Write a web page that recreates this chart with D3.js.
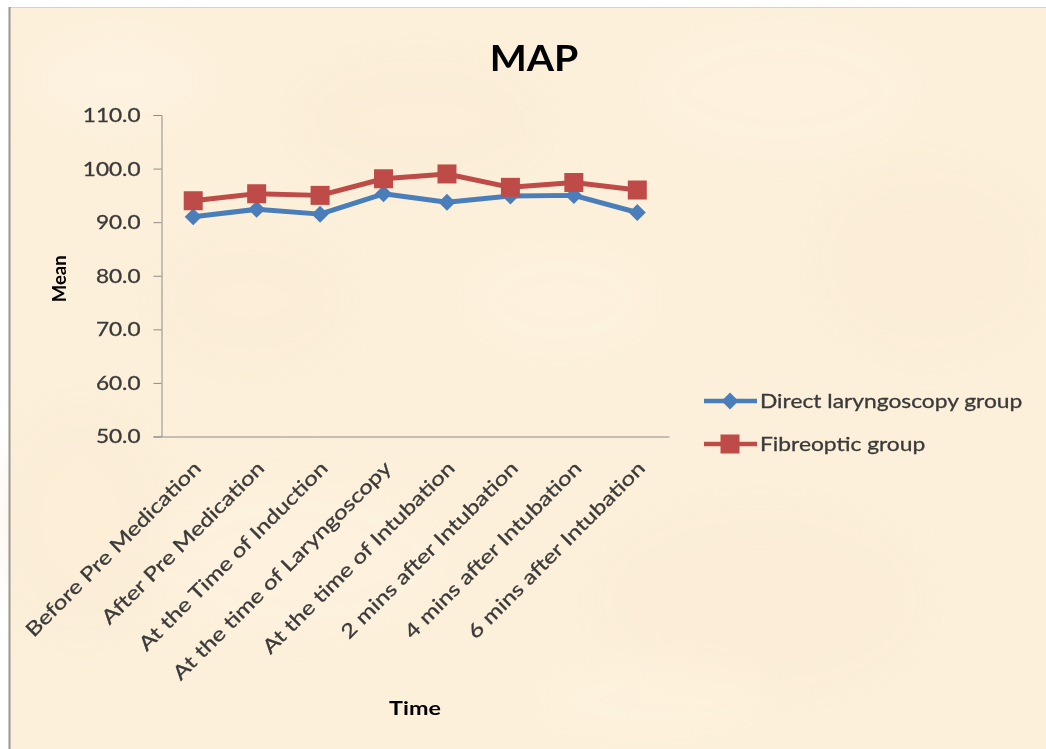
<!DOCTYPE html>
<html>
<head>
<meta charset="utf-8">
<script src="https://cdn.jsdelivr.net/npm/d3@7"></script>
<style>
  html, body { margin: 0; padding: 0; background: #ffffff; }
  svg { display: block; }
</style>
</head>
<body>
<svg id="chart" width="1046" height="749"></svg>
<script>
// Time points along the x axis
const categories = [
  "Before Pre Medication",
  "After Pre Medication",
  "At the Time of Induction",
  "At the time of Laryngoscopy",
  "At the time of Intubation",
  "2 mins after Intubation",
  "4 mins after Intubation",
  "6 mins after Intubation"
];

// Mean arterial pressure per group
const directValues = [91.0, 92.4, 91.5, 95.3, 93.7, 94.9, 95.0, 91.8];
const fibreopticValues = [94.0, 95.3, 95.0, 98.1, 99.0, 96.5, 97.4, 96.0];

const seriesNames = ["Direct laryngoscopy group", "Fibreoptic group"];
const yTicks = [50, 60, 70, 80, 90, 100, 110];

const series = [
  { name: seriesNames[0], values: directValues, color: "#4a7ebb", shape: "diamond" },
  { name: seriesNames[1], values: fibreopticValues, color: "#be4b48", shape: "square" }
];

const svg = d3.select("#chart");
const W = 1046, H = 749;

// Parchment-like background panel with a thin grey frame on top/left
const bg = svg.append("g");
bg.append("rect").attr("x", 0).attr("y", 0).attr("width", W).attr("height", H).attr("fill", "#ffffff");
bg.append("rect").attr("x", 9).attr("y", 7).attr("width", W - 9).attr("height", H - 7).attr("fill", "#fcf0da");

// Soft blotches to suggest the paper texture
const defs = svg.append("defs");
const blur = defs.append("filter").attr("id", "soft").attr("x", "-50%").attr("y", "-50%").attr("width", "200%").attr("height", "200%");
blur.append("feGaussianBlur").attr("stdDeviation", 18);
const blotches = [
  [120, 80, 90, 50, "#fff5e6"], [420, 120, 120, 60, "#fbebd3"], [780, 90, 140, 70, "#fff4e3"],
  [930, 260, 110, 90, "#fbebd2"], [300, 560, 150, 80, "#fff3e1"], [760, 600, 160, 90, "#fbebd2"],
  [560, 300, 100, 60, "#fff3e2"], [80, 520, 80, 110, "#fbebd3"], [650, 700, 120, 40, "#fff3e0"],
  [250, 300, 90, 60, "#fbecd5"]
];
bg.append("g").attr("filter", "url(#soft)")
  .selectAll("ellipse").data(blotches).join("ellipse")
  .attr("cx", d => d[0]).attr("cy", d => d[1])
  .attr("rx", d => d[2]).attr("ry", d => d[3])
  .attr("fill", d => d[4]).attr("opacity", 0.5);

bg.append("line").attr("x1", 9).attr("x2", W).attr("y1", 7.5).attr("y2", 7.5)
  .attr("stroke", "#d6d2ca").attr("stroke-width", 1);
bg.append("line").attr("x1", 9.5).attr("x2", 9.5).attr("y1", 7).attr("y2", H)
  .attr("stroke", "#9a9690").attr("stroke-width", 2);

// Plot geometry
const plot = { left: 161.5, right: 669, top: 115, bottom: 436.5 };

const x = d3.scaleBand().domain(categories).range([plot.left, plot.right]).padding(0);
const y = d3.scaleLinear().domain([50, 110]).range([plot.bottom, plot.top]);
const cx = c => x(c) + x.bandwidth() / 2;

const font = "Lato, 'Open Sans', 'Liberation Sans', sans-serif";
const textColor = "#3a3a3a";
const axisColor = "#8c8c8c";

// Title
svg.append("text")
  .attr("transform", "translate(534,71) scale(1.06,1)")
  .attr("text-anchor", "middle")
  .attr("font-family", font).attr("font-weight", "bold")
  .attr("font-size", 37).attr("fill", "#000")
  .text("MAP");

// Y axis
const yAxis = d3.axisLeft(y).tickValues(yTicks).tickFormat(d3.format(".1f")).tickSize(8).tickPadding(0);
const gy = svg.append("g").attr("transform", `translate(${plot.left},0)`).call(yAxis);
gy.select(".domain").attr("stroke", axisColor);
gy.selectAll(".tick line").attr("stroke", axisColor);
gy.selectAll(".tick text")
  .attr("x", 0).attr("dy", "0.35em")
  .attr("transform", "translate(-21,0) scale(1.22,1)")
  .attr("font-family", font).attr("font-size", 18.5).attr("fill", textColor)
  .attr("stroke", textColor).attr("stroke-width", 0.3);

// X axis (baseline only, labels rotated)
const xAxis = d3.axisBottom(x).tickSize(0).tickSizeOuter(0).tickFormat("");
const gx = svg.append("g").attr("transform", `translate(0,${plot.bottom})`).call(xAxis);
gx.select(".domain").attr("stroke", axisColor);

svg.append("g").selectAll("text").data(categories).join("text")
  .attr("transform", d => `translate(${cx(d) + 9},${plot.bottom + 33}) rotate(-45) scale(1.24,1)`)
  .attr("text-anchor", "end")
  .attr("font-family", font).attr("font-size", 19.5).attr("fill", textColor)
  .attr("stroke", textColor).attr("stroke-width", 0.3)
  .text(d => d);

// Axis titles
svg.append("text")
  .attr("transform", `translate(66,${(plot.top + plot.bottom) / 2 + 3}) rotate(-90)`)
  .attr("text-anchor", "middle")
  .attr("font-family", font).attr("font-weight", "bold")
  .attr("font-size", 18.5).attr("fill", "#000")
  .text("Mean");

svg.append("text")
  .attr("transform", "translate(415,715) scale(1.26,1)")
  .attr("text-anchor", "middle")
  .attr("font-family", font).attr("font-weight", "bold")
  .attr("font-size", 18.5).attr("fill", "#000")
  .text("Time");

// Marker drawing
function drawMarker(sel, shape, color) {
  if (shape === "diamond") {
    sel.append("path").attr("d", "M0,-8.5 L8.5,0 L0,8.5 L-8.5,0 Z").attr("fill", color);
  } else {
    sel.append("rect").attr("x", -9.5).attr("y", -9.5).attr("width", 19).attr("height", 19).attr("fill", color);
  }
}

const line = d3.line().x((d, i) => cx(categories[i])).y(d => y(d));

series.forEach(s => {
  const g = svg.append("g");
  g.append("path").datum(s.values)
    .attr("d", line)
    .attr("fill", "none").attr("stroke", s.color)
    .attr("stroke-width", 5).attr("stroke-linejoin", "round");
  g.selectAll("g.pt").data(s.values).join("g").attr("class", "pt")
    .attr("transform", (d, i) => `translate(${cx(categories[i])},${y(d)})`)
    .each(function () { drawMarker(d3.select(this), s.shape, s.color); });
});

// Legend
const legend = svg.append("g");
const legendRows = [401, 444];
series.forEach((s, i) => {
  const row = legend.append("g").attr("transform", `translate(704,${legendRows[i]})`);
  row.append("line").attr("x1", 0).attr("x2", 53).attr("y1", 0).attr("y2", 0)
    .attr("stroke", s.color).attr("stroke-width", 4.5);
  drawMarker(row.append("g").attr("transform", "translate(26,0)"), s.shape, s.color);
  row.append("text")
    .attr("transform", "translate(56,0) scale(1.2,1)")
    .attr("dy", "0.35em")
    .attr("font-family", font).attr("font-size", 19).attr("fill", textColor)
    .attr("stroke", textColor).attr("stroke-width", 0.3)
    .text(s.name);
});
</script>
</body>
</html>
